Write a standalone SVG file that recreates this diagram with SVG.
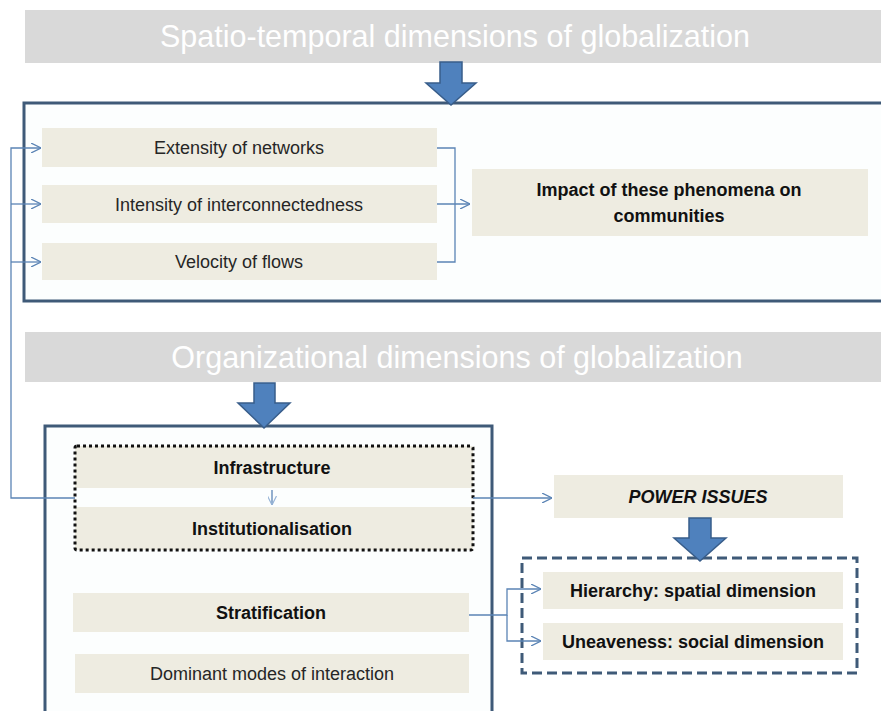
<svg xmlns="http://www.w3.org/2000/svg" width="881" height="711" viewBox="0 0 881 711">
<style>
  .banner{fill:#d9d9d9}
  .btxt{font-family:"Liberation Sans",Arial,sans-serif;font-size:30.5px;fill:#ffffff;text-anchor:middle}
  .cell{fill:#eeece1}
  .t{font-family:"Liberation Sans",Arial,sans-serif;font-size:18px;fill:#262626;text-anchor:middle}
  .tb{font-family:"Liberation Sans",Arial,sans-serif;font-size:18px;font-weight:bold;fill:#111111;text-anchor:middle}
  .frame{fill:#fcfefe;stroke:#3f5a78;stroke-width:3}
  .big{fill:#4f81bd;stroke:#385d8a;stroke-width:1.5}
  .conn{fill:none;stroke:#5b84b5;stroke-width:1.3}
</style>
<defs>
  <marker id="ah" viewBox="0 0 10 10" refX="10" refY="5" markerWidth="10" markerHeight="10" markerUnits="userSpaceOnUse" orient="auto">
    <path d="M0,0 L10,5 L0,10" fill="none" stroke="#5b84b5" stroke-width="1.3"/>
  </marker>
  <marker id="ahl" viewBox="0 0 10 10" refX="10" refY="5" markerWidth="9" markerHeight="9" markerUnits="userSpaceOnUse" orient="auto">
    <path d="M0,0 L10,5 L0,10" fill="none" stroke="#95b3d7" stroke-width="1.3"/>
  </marker>
</defs>

<g id="banner-spatio">
  <rect class="banner" x="25" y="10" width="860" height="53"/>
  <text class="btxt" x="455" y="47">Spatio-temporal dimensions of globalization</text>
</g>

<g id="frame-top">
  <rect class="frame" x="24" y="103" width="880" height="198"/>
</g>

<g id="banner-org">
  <rect class="banner" x="25" y="332" width="860" height="50"/>
  <text class="btxt" x="457" y="368">Organizational dimensions of globalization</text>
</g>

<g id="frame-bottom">
  <rect class="frame" x="45" y="426" width="447" height="300"/>
</g>

<g id="extensity">
  <rect class="cell" x="42" y="128" width="395" height="39"/>
  <text class="t" x="239" y="154">Extensity of networks</text>
</g>
<g id="intensity">
  <rect class="cell" x="42" y="185" width="395" height="38"/>
  <text class="t" x="239" y="210.5">Intensity of interconnectedness</text>
</g>
<g id="velocity">
  <rect class="cell" x="42" y="243" width="395" height="37"/>
  <text class="t" x="239" y="268">Velocity of flows</text>
</g>
<g id="impact">
  <rect class="cell" x="472" y="169" width="396" height="67"/>
  <text class="tb" x="669" y="196">Impact of these phenomena on</text>
  <text class="tb" x="669" y="222">communities</text>
</g>

<g id="infra-group">
  <rect class="cell" x="75" y="446" width="398" height="42"/>
  <text class="tb" x="272" y="474">Infrastructure</text>
  <rect class="cell" x="75" y="507" width="398" height="43"/>
  <text class="tb" x="272" y="535">Institutionalisation</text>
  <rect x="75" y="446" width="398" height="104" rx="2" fill="none" stroke="#111" stroke-width="3" stroke-dasharray="3 3"/>
</g>

<g id="stratification">
  <rect class="cell" x="73" y="593" width="396" height="39"/>
  <text class="tb" x="271" y="619">Stratification</text>
</g>
<g id="dominant">
  <rect class="cell" x="75" y="654" width="394" height="39"/>
  <text class="t" x="272" y="680">Dominant modes of interaction</text>
</g>

<g id="power">
  <rect class="cell" x="554" y="475" width="289" height="43"/>
  <text class="tb" x="698" y="503" font-style="italic">POWER ISSUES</text>
</g>

<g id="power-dims">
  <rect class="cell" x="543" y="572" width="300" height="37"/>
  <text class="tb" x="693" y="597">Hierarchy: spatial dimension</text>
  <rect class="cell" x="543" y="623" width="300" height="37"/>
  <text class="tb" x="693" y="648">Uneaveness: social dimension</text>
  <rect x="522" y="558" width="335" height="115" fill="none" stroke="#3f5a78" stroke-width="3" stroke-dasharray="10 5"/>
</g>

<g id="connectors">
  <path class="conn" d="M75,498 H11 V148 H41" marker-end="url(#ah)"/>
  <path class="conn" d="M11,204 H41" marker-end="url(#ah)"/>
  <path class="conn" d="M11,262 H41" marker-end="url(#ah)"/>
  <path class="conn" d="M437,148 H455 V262 H437"/>
  <path class="conn" d="M437,204 H470" marker-end="url(#ah)"/>
  <path class="conn" d="M473,498 H552" marker-end="url(#ah)"/>
  <path class="conn" d="M272,490 V505" stroke="#95b3d7" marker-end="url(#ahl)"/>
  <path class="conn" d="M469,615 H507 V589 H541" marker-end="url(#ah)"/>
  <path class="conn" d="M507,615 V641 H541" marker-end="url(#ah)"/>
  <path class="big" d="M440,62 H462 V83 H476 L451,105 L426,83 H440 Z"/>
  <path class="big" d="M254,383 H275 V403 H290 L264,428 L238,403 H254 Z"/>
  <path class="big" d="M689,518 H711 V538 H726 L700,561 L674,538 H689 Z"/>
</g>
</svg>
